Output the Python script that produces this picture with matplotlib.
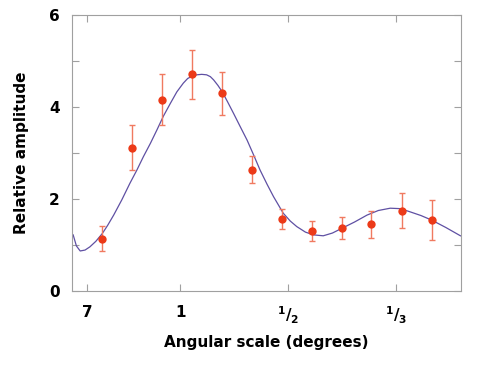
import numpy as np
import matplotlib
matplotlib.use("Agg")
import matplotlib.pyplot as plt

plt.rcParams['mathtext.fontset'] = 'dejavusans'

# measured points (multipole l, relative amplitude, error)
pt_l = [56, 111, 167, 222, 277, 333, 388, 444, 499, 554, 610, 666]
pt_amp = [1.14, 3.11, 4.16, 4.71, 4.30, 2.64, 1.56, 1.31, 1.36, 1.45, 1.75, 1.54]
pt_err = [0.28, 0.49, 0.55, 0.54, 0.47, 0.30, 0.22, 0.22, 0.24, 0.30, 0.37, 0.43]

# model curve
curve_l = [2, 8, 15, 24, 33, 44, 56, 66, 77, 92, 107, 120, 132, 145, 157, 169,
           182, 194, 206, 214, 222, 231, 240, 249, 256, 262, 270, 278, 288, 299,
           311, 324, 336, 348, 361, 373, 391, 404, 416, 432, 447, 465, 482, 499,
           523, 546, 567, 589, 608, 626, 646, 666, 692, 719]
curve_amp = [1.22, 0.98, 0.87, 0.89, 0.96, 1.08, 1.25, 1.43, 1.65, 1.98, 2.34,
             2.63, 2.92, 3.21, 3.50, 3.80, 4.08, 4.33, 4.52, 4.62, 4.67, 4.70,
             4.71, 4.70, 4.66, 4.59, 4.47, 4.33, 4.11, 3.86, 3.58, 3.28, 2.96,
             2.63, 2.32, 2.05, 1.69, 1.52, 1.40, 1.28, 1.22, 1.20, 1.26, 1.36,
             1.50, 1.65, 1.75, 1.80, 1.79, 1.72, 1.64, 1.54, 1.38, 1.20]

tick_pos = [28, 200, 400, 600]
tick_lab = ['7', '1', r'$\mathbf{{}^{1}/_{2}}$', r'$\mathbf{{}^{1}/_{3}}$']

fig = plt.figure(figsize=(4.87, 3.69), dpi=100)
ax = fig.add_axes([0.148, 0.2114, 0.7986, 0.7479])

ax.plot(curve_l, curve_amp, color='#5f50a3', lw=0.9, zorder=2)
ax.errorbar(pt_l, pt_amp, yerr=pt_err, fmt='none', ecolor='#f07a60',
            elinewidth=1.0, capsize=2.5, capthick=1.0, zorder=3)
ax.plot(pt_l, pt_amp, 'o', color='#ec3a18', ms=6, mec='none', zorder=4)

ax.set_xlim(0, 720)
ax.set_ylim(0, 6)
ax.set_xticks(tick_pos)
ax.set_xticklabels(tick_lab)
ax.set_yticks([0, 2, 4, 6])
ax.set_yticks([1, 3, 5], minor=True)

for s in ax.spines.values():
    s.set_color('#a0a0a0')
    s.set_linewidth(0.8)
ax.tick_params(which='both', direction='in', top=True, right=True,
               color='#a0a0a0', width=0.8, length=5)
ax.tick_params(axis='x', pad=10, labelsize=11)
ax.tick_params(axis='y', pad=9, labelsize=11)
for lab in ax.get_xticklabels() + ax.get_yticklabels():
    lab.set_fontweight('bold')

ax.set_xlabel('Angular scale (degrees)', fontsize=11, fontweight='bold',
              labelpad=6)
ax.set_ylabel('Relative amplitude', fontsize=11, fontweight='bold',
              labelpad=14)

fig.savefig('out.png', dpi=100)
